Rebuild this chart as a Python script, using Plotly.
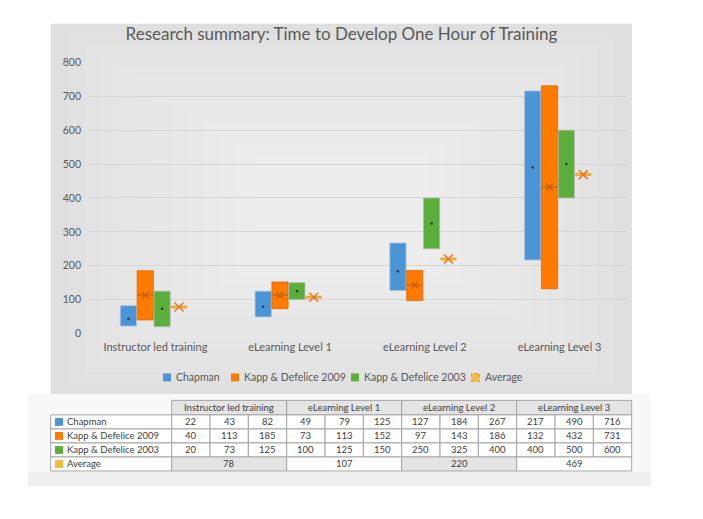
import plotly.graph_objects as go

# ---------------- data ----------------
categories = ["Instructor led training", "eLearning Level 1", "eLearning Level 2", "eLearning Level 3"]
series_names = ["Chapman", "Kapp & Defelice 2009", "Kapp & Defelice 2003"]

chapman_low = [22, 49, 127, 217]
chapman_mid = [43, 79, 184, 490]
chapman_high = [82, 125, 267, 716]

kapp2009_low = [40, 73, 97, 132]
kapp2009_mid = [113, 113, 143, 432]
kapp2009_high = [185, 152, 186, 731]

kapp2003_low = [20, 100, 250, 400]
kapp2003_mid = [73, 125, 325, 500]
kapp2003_high = [125, 150, 400, 600]

average = [78, 107, 220, 469]

y_ticks = [0, 100, 200, 300, 400, 500, 600, 700, 800]

# ---------------- style ----------------
FONT = "Lato, 'Open Sans', sans-serif"
TXT = "#595959"
TTXT = "#404040"
BLUE = "#4A94D8"
ORANGE = "#FF7B00"
GREEN = "#5AAE3A"
AVG_LINE = "#F2A93B"
AVG_X = "#E47A24"
K09_MARK = "#C8600E"
AVG_KEY = "#F2BB44"

# page has an 8px body margin; figure placed at (8, 8) in the screenshot
OFF = 8
FW, FH = 703 - OFF, 519 - OFF
ML, MR, MT, MB = 51 - OFF, FW - (632 - OFF), 17 - OFF, FH - (486 - OFF)
PW, PH = FW - ML - MR, FH - MT - MB


def fx(px):  # screen px -> paper x
    return (px - OFF - ML) / PW


def fy(py):  # screen px -> paper y
    return (FH - MB - (py - OFF)) / PH


slot_off = [-0.2, -0.075, 0.05, 0.175]
bar_w = 0.12
idx = list(range(len(categories)))

fig = go.Figure()

lows = [chapman_low, kapp2009_low, kapp2003_low]
highs = [chapman_high, kapp2009_high, kapp2003_high]
mids = [chapman_mid, kapp2009_mid, kapp2003_mid]
colors = [BLUE, ORANGE, GREEN]
edge = ["#A9C2D8", "#D86A00", "#B5B5B5"]

for s in range(3):
    fig.add_trace(go.Bar(
        x=[i + slot_off[s] for i in idx],
        y=[h - l for h, l in zip(highs[s], lows[s])],
        base=lows[s],
        width=bar_w,
        marker=dict(color=colors[s], line=dict(color=edge[s], width=0.8)),
        name=series_names[s],
        showlegend=False,
    ))

# mid markers: Chapman and Kapp 2003 tiny dots
for s in (0, 2):
    fig.add_trace(go.Scatter(
        x=[i + slot_off[s] for i in idx], y=mids[s], mode="markers",
        marker=dict(symbol="circle", size=2.5, color="#333333"),
        showlegend=False,
    ))


def segments(off, vals, half):
    xs, ys = [], []
    for i, v in zip(idx, vals):
        xs += [i + off - half, i + off + half, None]
        ys += [v, v, None]
    return xs, ys


# Kapp 2009 mid marker: line + x
sx, sy = segments(slot_off[1], kapp2009_mid, bar_w / 2)
fig.add_trace(go.Scatter(x=sx, y=sy, mode="lines", line=dict(color=K09_MARK, width=1.2), showlegend=False))
fig.add_trace(go.Scatter(x=[i + slot_off[1] for i in idx], y=kapp2009_mid, mode="markers",
                         marker=dict(symbol="x-thin-open", size=7, color=K09_MARK,
                                     line=dict(color=K09_MARK, width=1.5)),
                         showlegend=False))

# Average: line + x
sx, sy = segments(slot_off[3], average, bar_w / 2)
fig.add_trace(go.Scatter(x=sx, y=sy, mode="lines", line=dict(color=AVG_LINE, width=3), showlegend=False))
fig.add_trace(go.Scatter(x=[i + slot_off[3] for i in idx], y=average, mode="markers",
                         marker=dict(symbol="x-thin-open", size=9, color=AVG_X,
                                     line=dict(color=AVG_X, width=1.5)),
                         showlegend=False))

# ---------------- decoration shapes ----------------
shapes = []
annotations = []


def rect(x0, y0, x1, y1, fill, line_w=0, line_c=None, layer="above", opacity=1, dash="solid"):
    shapes.append(dict(type="rect", xref="paper", yref="paper", x0=fx(x0), x1=fx(x1), y0=fy(y1), y1=fy(y0),
                       fillcolor=fill, opacity=opacity, layer=layer,
                       line=dict(width=line_w, color=line_c or "rgba(0,0,0,0)", dash=dash)))


def text(x, y, s, size, color, anchor="center"):
    annotations.append(dict(xref="paper", yref="paper", x=fx(x), y=fy(y), text=str(s), showarrow=False,
                            xanchor=anchor, yanchor="middle",
                            font=dict(family=FONT, size=size, color=color)))


# chart area background with soft radial-ish gradient
cx0, cx1, cy0, cy1 = 51, 632, 17.7, 392.7
rect(cx0, cy0, cx1, cy1, "#DFDFDF", layer="below")
for k in range(1, 13):
    dx, dy = 17 * k, 11 * k
    rect(cx0 + dx, cy0 + dy, cx1 - dx, cy1 - dy, "white", layer="below", opacity=0.065)

# table area background
rect(28, 393, 651, 486, "#F8F8F8", layer="below")
rect(28, 472, 651, 486, "#EFEFEF", layer="below")

# chart legend
legend_items = series_names + ["Average"]
legend_colors = colors + [AVG_KEY]
legend_x = [163, 231, 351, 471.5]
for name, c, lx in zip(legend_items, legend_colors, legend_x):
    if name == "Average":
        rect(lx, 372, lx + 8, 380, c, line_w=0.8, line_c=ORANGE, dash="dot")
    else:
        rect(lx, 372, lx + 8, 380, c)
    text(lx + 11, 376, name, 10.5, TXT, "left")

# ---------------- data table (drawn from the arrays) ----------------
LINE = "#A6A6A6"
HDR_FILL = "#E4E4E4"
TSIZE = 9.5
t_left = 50.7
label_w = 121
grp_w = 115
sub_w = grp_w / 3
hdr_top, hdr_bot = 399.3, 414
row_h = 14.2

# header
for g, cat in enumerate(categories):
    x0 = t_left + label_w + g * grp_w
    rect(x0, hdr_top, x0 + grp_w, hdr_bot, HDR_FILL, 1, LINE)
    text(x0 + grp_w / 2, (hdr_top + hdr_bot) / 2, cat, TSIZE, TTXT)

# series rows
for s in range(3):
    y0 = hdr_bot + s * row_h
    y1 = y0 + row_h
    rect(t_left, y0, t_left + label_w, y1, "white", 1, LINE)
    rect(t_left + 4.3, (y0 + y1) / 2 - 4, t_left + 12.3, (y0 + y1) / 2 + 4, colors[s])
    text(t_left + 14.5, (y0 + y1) / 2, series_names[s], TSIZE, TTXT, "left")
    for i in idx:
        vals = [lows[s][i], mids[s][i], highs[s][i]]
        for k, v in enumerate(vals):
            x0 = t_left + label_w + i * grp_w + k * sub_w
            rect(x0, y0, x0 + sub_w, y1, "white", 1, LINE)
            text(x0 + sub_w / 2, (y0 + y1) / 2, v, TSIZE, TTXT)

# average row
y0 = hdr_bot + 3 * row_h
y1 = y0 + row_h
rect(t_left, y0, t_left + label_w, y1, "white", 1, LINE)
rect(t_left + 4.3, (y0 + y1) / 2 - 4, t_left + 12.3, (y0 + y1) / 2 + 4, AVG_KEY)
text(t_left + 14.5, (y0 + y1) / 2, "Average", TSIZE, TTXT, "left")
for i, a in enumerate(average):
    x0 = t_left + label_w + i * grp_w
    rect(x0, y0, x0 + grp_w, y1, HDR_FILL if i % 2 == 0 else "white", 1, LINE)
    text(x0 + grp_w / 2, (y0 + y1) / 2, a, TSIZE, TTXT)

fig.update_layout(
    width=FW, height=FH,
    margin=dict(l=ML, r=MR, t=MT, b=MB, pad=0),
    paper_bgcolor="white",
    plot_bgcolor="rgba(0,0,0,0)",
    barmode="overlay",
    showlegend=False,
    title=dict(text="Research summary: Time to Develop One Hour of Training",
               x=(341.5 - OFF) / FW, xanchor="center", y=1 - (34 - OFF) / FH, yanchor="middle",
               font=dict(family=FONT, size=17, color=TXT)),
    xaxis=dict(domain=[fx(88), fx(627)], range=[-0.5, 3.5], tickmode="array", tickvals=idx, ticktext=categories,
               showgrid=False, zeroline=False, showline=False, ticks="", ticklabelstandoff=6,
               tickfont=dict(family=FONT, size=11, color=TXT)),
    yaxis=dict(domain=[fy(331.5), fy(57)], range=[0, 800], tickmode="array", tickvals=y_ticks,
               showgrid=True, gridcolor="#D4D4D4", gridwidth=1, zeroline=False, showline=False, ticks="",
               ticklabelstandoff=6,
               tickfont=dict(family=FONT, size=10.5, color=TXT)),
    shapes=shapes,
    annotations=annotations,
    font=dict(family=FONT, color=TXT),
)

fig.write_html("out.html")
